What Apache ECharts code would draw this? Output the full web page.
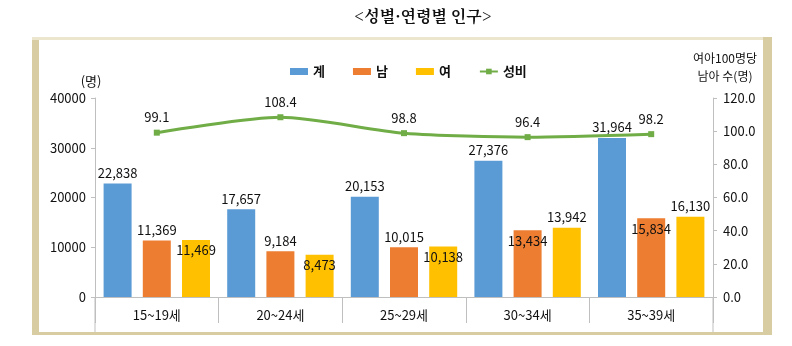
<!DOCTYPE html>
<html><head><meta charset="utf-8">
<script src="https://cdn.jsdelivr.net/npm/echarts@6/dist/echarts.min.js"></script>
<style>html,body{margin:0;padding:0;background:#fff}#c{width:792px;height:346px}</style>
</head><body><div id="c"></div>
<script>
const categories = ['15~19세','20~24세','25~29세','30~34세','35~39세'];
const total = [22838,17657,20153,27376,31964];
const male = [11369,9184,10015,13434,15834];
const female = [11469,8473,10138,13942,16130];
const sexRatio = [99.1,108.4,98.8,96.4,98.2];
const leftAxis = {min:0,max:40000,interval:10000};
const rightAxis = {min:0,max:120,interval:20};

const FONT = "'Noto Sans CJK KR',sans-serif";
const KFONT = "'Noto Sans CJK KR',sans-serif";
const fmt = v => v.toLocaleString('en-US');
const chart = echarts.init(document.getElementById('c'));

const malePos = ['top','top','top','insideTop','insideTop'];
const femalePos = ['insideTop','insideTop','insideTop','top','top'];
function mk(values, posArr){
  return values.map((v,i)=>({value:v,label:{position:posArr?posArr[i]:'top'}}));
}
const lbl = {show:true,fontFamily:FONT,fontSize:13,color:'#111',distance:4,formatter:p=>fmt(p.value)};

chart.setOption({
  animation:false,
  title:{text:'<성별·연령별 인구>',left:418,top:3,textAlign:'center',
    textStyle:{fontFamily:"'Noto Serif CJK KR','Noto Sans CJK KR',serif",fontSize:16,fontWeight:'bold',color:'#111'}},
  graphic:[
    {type:'rect',z:-10,shape:{x:32,y:37,width:740,height:298},style:{fill:'#d8cca3'}},
    {type:'rect',z:-9,shape:{x:32,y:37,width:731,height:3},style:{fill:'#ece6cf'}},
    {type:'rect',z:-9,shape:{x:39,y:40,width:724,height:292},style:{fill:'#ffffff'}},
    {type:'line',z:5,shape:{x1:95,y1:297,x2:95,y2:332},style:{stroke:'#bfbfbf',lineWidth:1}},
    {type:'line',z:5,shape:{x1:713,y1:297,x2:713,y2:332},style:{stroke:'#bfbfbf',lineWidth:1}}
  ],
  legend:{left:285,top:60,itemWidth:18,itemHeight:7,itemGap:28,
    textStyle:{fontFamily:KFONT,fontSize:13,color:'#111',fontWeight:'bold'},
    data:[{name:'계',icon:'rect'},{name:'남',icon:'rect'},{name:'여',icon:'rect'},{name:'성비'}]},
  grid:{left:95,right:79,top:98,bottom:49},
  xAxis:{type:'category',data:categories,
    axisLine:{lineStyle:{color:'#bfbfbf'}},
    axisTick:{show:true,length:26,lineStyle:{color:'#bfbfbf'},alignWithLabel:false},
    axisLabel:{fontFamily:KFONT,fontSize:13,color:'#111',margin:12}},
  yAxis:[
    {type:'value',...leftAxis,name:'(명)',nameLocation:'end',nameGap:10,
      nameTextStyle:{fontFamily:KFONT,fontSize:13,color:'#111',align:'center',padding:[0,8,0,0]},
      axisLine:{show:true,lineStyle:{color:'#bfbfbf'}},axisTick:{show:true,length:4,lineStyle:{color:'#bfbfbf'}},
      splitLine:{show:false},
      axisLabel:{fontFamily:FONT,fontSize:13,color:'#111',margin:9,formatter:v=>String(v)}},
    {type:'value',...rightAxis,name:'여아100명당\n남아 수(명)',nameLocation:'end',nameGap:13,
      nameTextStyle:{fontFamily:KFONT,fontSize:12,color:'#111',align:'center',lineHeight:18,padding:[0,0,0,24]},
      axisLine:{show:true,lineStyle:{color:'#bfbfbf'}},axisTick:{show:true,length:4,lineStyle:{color:'#bfbfbf'}},
      splitLine:{show:false},
      axisLabel:{fontFamily:FONT,fontSize:13,color:'#111',margin:10,formatter:v=>v.toFixed(1)}}
  ],
  series:[
    {name:'계',type:'bar',data:mk(total),barWidth:28,barGap:'40%',itemStyle:{color:'#5b9bd5'},label:lbl},
    {name:'남',type:'bar',data:mk(male,malePos),barWidth:28,barGap:'40%',itemStyle:{color:'#ed7d31'},label:lbl},
    {name:'여',type:'bar',data:mk(female,femalePos),barWidth:28,barGap:'40%',itemStyle:{color:'#ffc000'},label:lbl},
    {name:'성비',type:'line',yAxisIndex:1,data:sexRatio,smooth:0.25,symbol:'rect',symbolSize:6,
      lineStyle:{color:'#70ad47',width:3},itemStyle:{color:'#70ad47'},
      label:{show:true,position:'top',distance:6,fontFamily:FONT,fontSize:13,color:'#111',formatter:p=>p.value.toFixed(1)}}
  ]
});
</script></body></html>
